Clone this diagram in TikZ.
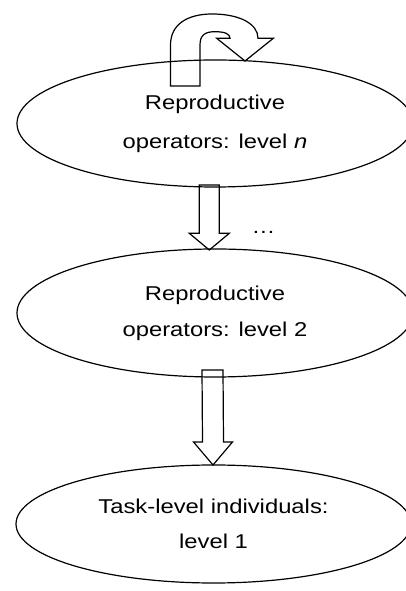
\documentclass[tikz,border=0pt]{standalone}
\usepackage{fontspec}
\setmainfont{Liberation Sans}[FakeStretch=1.19]
\usetikzlibrary{shapes.geometric,calc}
\tikzset{
  oval/.style={ellipse, draw, line width=1.2pt, inner sep=0pt, outer sep=0pt, align=center},
  blk/.style={draw, line width=1.2pt, line join=miter},
}
\newcommand\blockarr[5]{%
  \draw[blk] ($(#1)+(-#3,0)$) -- ($(#2)+(-#3,#5)$) -- ($(#2)+(-#4,#5)$) -- (#2)
    -- ($(#2)+(#4,#5)$) -- ($(#2)+(#3,#5)$) -- ($(#1)+(#3,0)$) -- cycle;}
\begin{document}
\begin{tikzpicture}[x=1pt,y=1pt]
\useasboundingbox (0,0) rectangle (406,591);
\clip (0,0) rectangle (406,591);
\node[oval, minimum width=396pt, minimum height=127pt, font=\fontsize{20}{39}\selectfont] (e1) at (215,467.5) {Reproductive\\operators: level \textit{n}};
\node[oval, minimum width=396pt, minimum height=128pt, font=\fontsize{20}{36}\selectfont] (e2) at (215,278) {Reproductive\\operators: level 2};
\node[oval, minimum width=395pt, minimum height=118pt, font=\fontsize{20}{35}\selectfont] (e3) at (213.5,67) {Task-level individuals:\\level 1};
\node[font=\fontsize{20}{24}\selectfont, inner sep=0pt] (dots) at (263.5,358.5) {…};
% self loop on level n
\begin{scope}[shift={(e1.north)}]
\draw[blk] (-44.5,-26) -- (-44.5,15) .. controls (-44.5,36) and (-27,46) .. (-3,46)
  .. controls (25,46) and (43,36) .. (43,21.7) -- (58.3,21.7) -- (30,-1) -- (1.7,21.7) -- (15,21.7)
  .. controls (15,26) and (10,28.3) .. (0,28.3) .. controls (-10,28.3) and (-15,25) .. (-15,15)
  -- (-15,-26) -- cycle;
\end{scope}
% down arrows
\coordinate (a1s) at ($(e1.south)+(-5.7,2)$);
\coordinate (a1t) at ($(e2.north)+(-5.7,-1)$);
\blockarr{a1s}{a1t}{10}{20}{16.7}
\coordinate (a2s) at ($(e2.south)+(-2.5,7)$);
\coordinate (a2t) at ($(e3.north)+(-0.5,0)$);
\blockarr{a2s}{a2t}{10.5}{19.5}{23}
\end{tikzpicture}
\end{document}
